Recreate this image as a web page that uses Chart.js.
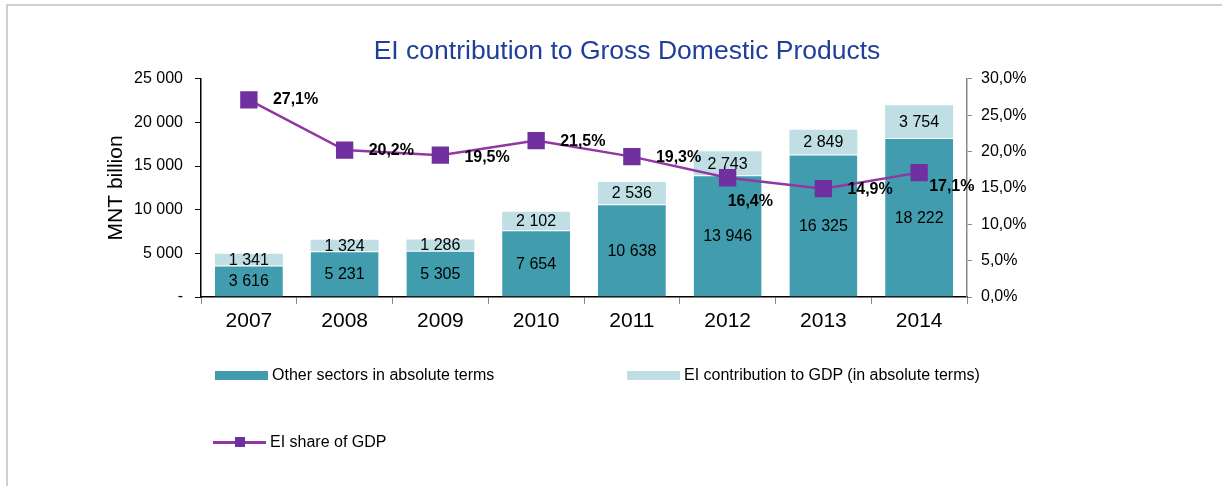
<!DOCTYPE html>
<html>
<head>
<meta charset="utf-8">
<script src="https://cdn.jsdelivr.net/npm/chart.js@4"></script>
<style>
  html, body { margin: 0; padding: 0; background: #fff; }
  body { width: 1222px; height: 486px; position: relative; overflow: hidden; font-family: "Liberation Sans", Arial, sans-serif; }
  .frame { position: absolute; left: 6px; top: 4px; width: 1240px; height: 500px; border-top: 2px solid #cfcfcf; border-left: 2px solid #cfcfcf; }
  #wrap { position: absolute; left: 0; top: 0; width: 1222px; height: 486px; }
  .leg { position: absolute; font-size: 16px; color: #000; display: flex; align-items: center; }
  .leg .box { width: 53px; height: 9px; margin-right: 4px; }
  .leg .ln { width: 53px; height: 3px; margin-right: 4px; position: relative; }
  .leg .ln span { position: absolute; left: 22px; top: -4px; width: 10px; height: 10px; }
</style>
</head>
<body>
<div class="frame"></div>
<div id="wrap"><canvas id="bieu-do"></canvas></div>
<div id="legend"></div>
<script>
// Dữ liệu
const years = ['2007', '2008', '2009', '2010', '2011', '2012', '2013', '2014'];
const otherSectors = [3616, 5231, 5305, 7654, 10638, 13946, 16325, 18222];
const eiContribution = [1341, 1324, 1286, 2102, 2536, 2743, 2849, 3754];
const eiShare = [27.1, 20.2, 19.5, 21.5, 19.3, 16.4, 14.9, 17.1];
const leftTicks = [0, 5000, 10000, 15000, 20000, 25000];
const rightTicks = [0, 5, 10, 15, 20, 25, 30];

const darkTeal = '#419dae';
const lightTeal = '#bfdfe5';
const purpleLine = '#9236a4';
const purpleMarker = '#7030a0';
const fontFam = '"Liberation Sans", Arial, sans-serif';

// label offsets for the line labels (dx, dy), per point
const lineLabelOffsets = [[24, 0], [24, 1], [24, 2], [24, 1], [24, 1], [0, 24], [24, 1], [10, 14]];

const fmtThousand = v => String(v).replace(/\B(?=(\d{3})+(?!\d))/g, ' ');
const fmtPct = v => v.toFixed(1).replace('.', ',') + '%';

// plugin ve nhan so lieu
const nhanPlugin = {
  id: 'nhan',
  afterDatasetsDraw(chart) {
    const ctx = chart.ctx;
    ctx.save();
    ctx.textBaseline = 'middle';
    chart.data.datasets.forEach((ds, i) => {
      const meta = chart.getDatasetMeta(i);
      meta.data.forEach((el, j) => {
        if (ds.type === 'line') {
          const off = lineLabelOffsets[j];
          ctx.font = 'bold 16px ' + fontFam;
          ctx.textAlign = 'left';
          ctx.fillStyle = '#000';
          ctx.fillText(fmtPct(ds.data[j]), el.x + off[0], el.y + off[1]);
        } else {
          const p = el.getProps(['x', 'y', 'base'], true);
          ctx.font = '16px ' + fontFam;
          ctx.textAlign = 'center';
          ctx.fillStyle = '#000';
          ctx.fillText(fmtThousand(ds.data[j]), p.x, (p.y + p.base) / 2 + 1);
        }
      });
    });
    ctx.restore();
  }
};

const config = {
  data: {
    labels: years,
    datasets: [
      {
        type: 'line',
        label: 'EI share of GDP',
        data: eiShare,
        yAxisID: 'y1',
        borderColor: purpleLine,
        borderWidth: 2.5,
        pointStyle: 'rect',
        pointRadius: 10.5,
        pointBackgroundColor: purpleMarker,
        pointBorderColor: purpleMarker,
        tension: 0,
        order: 0
      },
      {
        type: 'bar',
        label: 'Other sectors in absolute terms',
        data: otherSectors,
        backgroundColor: darkTeal,
        borderColor: '#ffffff',
        borderWidth: { top: 1, left: 0, right: 0, bottom: 0 },
        borderSkipped: false,
        stack: 's',
        order: 1
      },
      {
        type: 'bar',
        label: 'EI contribution to GDP (in absolute terms)',
        data: eiContribution,
        backgroundColor: lightTeal,
        stack: 's',
        order: 1
      }
    ]
  },
  options: {
    responsive: false,
    animation: false,
    devicePixelRatio: 1,
    datasets: { bar: { categoryPercentage: 1, barPercentage: 0.71 } },
    layout: { padding: { top: 20, left: 32, right: 0, bottom: 149 } },
    plugins: {
      legend: { display: false },
      tooltip: { enabled: false },
      title: {
        display: true,
        text: 'EI contribution to Gross Domestic Products',
        color: '#1f3f99',
        font: { size: 26.5, family: fontFam, weight: 'normal' },
        padding: { top: 16, bottom: 11 }
      }
    },
    scales: {
      x: {
        stacked: true,
        grid: { display: true, drawOnChartArea: false, offset: true, tickLength: 7, color: '#888' },
        border: { display: true, color: '#000', width: 1.5 },
        ticks: { color: '#000', font: { size: 21, family: fontFam }, padding: 5 },
        afterFit(scale) { scale.height = 40; }
      },
      y: {
        stacked: true,
        min: 0,
        max: 25000,
        afterBuildTicks(scale) { scale.ticks = leftTicks.map(v => ({ value: v })); },
        grid: { display: true, drawOnChartArea: false, tickLength: 6, color: '#000' },
        border: { display: true, color: '#000', width: 1.5 },
        ticks: {
          color: '#000',
          padding: 12,
          font: { size: 16, family: fontFam },
          callback: v => v === 0 ? '-' : fmtThousand(v)
        },
        title: {
          display: true,
          text: 'MNT billion',
          color: '#000',
          font: { size: 21, family: fontFam },
          padding: { top: 72, bottom: 0 }
        },
        afterFit(scale) { scale.width = 169; }
      },
      y1: {
        position: 'right',
        min: 0,
        max: 30,
        afterBuildTicks(scale) { scale.ticks = rightTicks.map(v => ({ value: v })); },
        grid: { display: true, drawOnChartArea: false, tickLength: 5, color: '#888' },
        border: { display: true, color: '#888', width: 1.5 },
        ticks: {
          color: '#000',
          padding: 9,
          font: { size: 16, family: fontFam },
          callback: v => fmtPct(v)
        },
        afterFit(scale) { scale.width = 255; }
      }
    }
  },
  plugins: [nhanPlugin]
};

const canvas = document.getElementById('bieu-do');
canvas.width = 1222;
canvas.height = 486;
const bieuDo = new Chart(canvas, config);

// legend html
const legendItems = [
  { ds: 1, left: 215, top: 366 },
  { ds: 2, left: 627, top: 366 },
  { ds: 0, left: 213, top: 433 }
];
const legendEl = document.getElementById('legend');
legendItems.forEach(it => {
  const ds = bieuDo.data.datasets[it.ds];
  const div = document.createElement('div');
  div.className = 'leg';
  div.style.left = it.left + 'px';
  div.style.top = it.top + 'px';
  if (ds.type === 'line') {
    div.innerHTML = '<div class="ln" style="background:' + ds.borderColor + '"><span style="background:' + ds.pointBackgroundColor + '"></span></div>';
  } else {
    div.innerHTML = '<div class="box" style="background:' + ds.backgroundColor + '"></div>';
  }
  const t = document.createElement('span');
  t.textContent = ds.label;
  div.appendChild(t);
  legendEl.appendChild(div);
});
</script>
</body>
</html>
